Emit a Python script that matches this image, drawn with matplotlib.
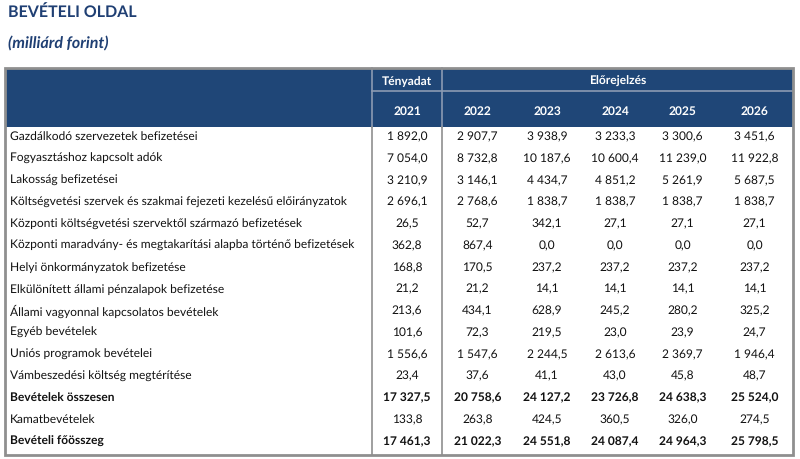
import matplotlib
matplotlib.use("Agg")
import matplotlib.pyplot as plt
from matplotlib.patches import Rectangle

title = "BEVÉTELI OLDAL"
subtitle = "(milliárd forint)"
group_labels = ["Tényadat", "Előrejelzés"]
years = ["2021", "2022", "2023", "2024", "2025", "2026"]
row_labels = [
    "Gazdálkodó szervezetek befizetései",
    "Fogyasztáshoz kapcsolt adók",
    "Lakosság befizetései",
    "Költségvetési szervek és szakmai fejezeti kezelésű előirányzatok",
    "Központi költségvetési szervektől származó befizetések",
    "Központi maradvány- és megtakarítási alapba történő befizetések",
    "Helyi önkormányzatok befizetése",
    "Elkülönített állami pénzalapok befizetése",
    "Állami vagyonnal kapcsolatos bevételek",
    "Egyéb bevételek",
    "Uniós programok bevételei",
    "Vámbeszedési költség megtérítése",
    "Bevételek összesen",
    "Kamatbevételek",
    "Bevételi főösszeg",
]
bold_rows = ["Bevételek összesen", "Bevételi főösszeg"]
v2021 = [1892.0, 7054.0, 3210.9, 2696.1, 26.5, 362.8, 168.8, 21.2, 213.6, 101.6, 1556.6, 23.4, 17327.5, 133.8, 17461.3]
v2022 = [2907.7, 8732.8, 3146.1, 2768.6, 52.7, 867.4, 170.5, 21.2, 434.1, 72.3, 1547.6, 37.6, 20758.6, 263.8, 21022.3]
v2023 = [3938.9, 10187.6, 4434.7, 1838.7, 342.1, 0.0, 237.2, 14.1, 628.9, 219.5, 2244.5, 41.1, 24127.2, 424.5, 24551.8]
v2024 = [3233.3, 10600.4, 4851.2, 1838.7, 27.1, 0.0, 237.2, 14.1, 245.2, 23.0, 2613.6, 43.0, 23726.8, 360.5, 24087.4]
v2025 = [3300.6, 11239.0, 5261.9, 1838.7, 27.1, 0.0, 237.2, 14.1, 280.2, 23.9, 2369.7, 45.8, 24638.3, 326.0, 24964.3]
v2026 = [3451.6, 11922.8, 5687.5, 1838.7, 27.1, 0.0, 237.2, 14.1, 325.2, 24.7, 1946.4, 48.7, 25524.0, 274.5, 25798.5]
columns = [v2021, v2022, v2023, v2024, v2025, v2026]


def fmt(v):
    s = f"{v:,.1f}"
    return s.replace(",", "\u2009").replace(".", ",").replace("\u2009", " ")


plt.rcParams["font.family"] = ["Lato", "DejaVu Sans"]
plt.rcParams["text.hinting"] = "none"
plt.rcParams["text.hinting_factor"] = 1
W, H = 800, 460
fig = plt.figure(figsize=(W / 100, H / 100), dpi=100)
ax = fig.add_axes([0, 0, 1, 1])
ax.set_xlim(0, W)
ax.set_ylim(H, 0)
ax.axis("off")

navy = "#1F4677"
title_col = "#1F3F73"
grid_col = "#8C9BB3"
border_col = "#8F8F8F"

ax.text(8, 13, title, fontsize=11.4, fontweight="bold", color=title_col, va="center", ha="left")
ax.text(8, 44, subtitle, fontsize=11.5, fontweight="bold", fontstyle="italic", color=title_col, va="center", ha="left")

left, right = 5, 793
top, hmid, hbot = 69, 92, 128
bottom = 456
col_edges = [372, 442, 513, 581, 649, 716, right]
col_centers = [(col_edges[i] + col_edges[i + 1]) / 2 for i in range(6)]

# header background
ax.add_patch(Rectangle((left, top), right - left, hbot - top, facecolor=navy, edgecolor="none", zorder=1))
# header internal lines
ax.plot([col_edges[0], right], [hmid, hmid], color=grid_col, lw=1.2, zorder=2)
ax.plot([col_edges[0], col_edges[0]], [top, hbot], color=grid_col, lw=1.2, zorder=2)
ax.plot([col_edges[1], col_edges[1]], [top, hbot], color=grid_col, lw=1.2, zorder=2)

hfs = 8.7
ax.text(col_centers[0], (top + hmid) / 2 + 1, group_labels[0], color="white", fontsize=hfs,
        fontweight="bold", ha="center", va="center", zorder=3)
ax.text((col_edges[1] + right) / 2, (top + hmid) / 2 + 1, group_labels[1], color="white", fontsize=hfs,
        fontweight="bold", ha="center", va="center", zorder=3)
for xc, y in zip(col_centers, years):
    ax.text(xc, (hmid + hbot) / 2 + 1, y, color="white", fontsize=hfs, fontweight="bold",
            ha="center", va="center", zorder=3)

# body vertical lines
ax.plot([col_edges[0], col_edges[0]], [hbot, bottom], color=border_col, lw=1.2, zorder=2)
ax.plot([col_edges[1], col_edges[1]], [hbot, bottom], color=border_col, lw=1.2, zorder=2)

# outer border
ax.add_patch(Rectangle((left, top), right - left, bottom - top, facecolor="none",
                       edgecolor=border_col, lw=2, zorder=4))

lfs = 8.6
nfs = 8.6
y0, dy = 137, 21.75
for i, lab in enumerate(row_labels):
    y = y0 + i * dy
    bold = lab in bold_rows
    w = "bold" if bold else "normal"
    ax.text(10, y, lab, fontsize=lfs, color="#111111", fontweight=w, ha="left", va="center")
    for xc, col in zip(col_centers, columns):
        ax.text(xc, y, fmt(col[i]), fontsize=nfs, color="#111111", fontweight=w, ha="center", va="center")

fig.savefig("out.png", dpi=100, facecolor="white")
